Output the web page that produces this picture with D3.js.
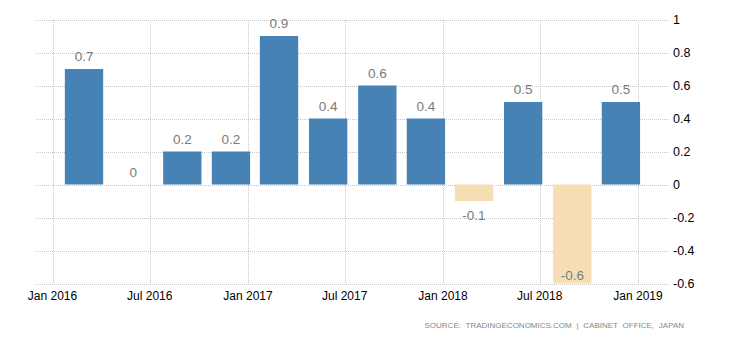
<!DOCTYPE html>
<html><head><meta charset="utf-8">
<script src="https://cdn.jsdelivr.net/npm/d3@7"></script>
<style>body{margin:0;background:#fff;} svg{display:block;}</style>
</head><body>
<svg id="c" width="730" height="340"></svg>
<script>
const dates = ["2016-02-29","2016-05-31","2016-08-31","2016-11-30","2017-02-28","2017-05-31","2017-08-31","2017-11-30","2018-02-28","2018-05-31","2018-08-31","2018-11-30"];
const values = [0.7, 0, 0.2, 0.2, 0.9, 0.4, 0.6, 0.4, -0.1, 0.5, -0.6, 0.5];
const xTickDates = ["2016-01-01","2016-07-01","2017-01-01","2017-07-01","2018-01-01","2018-07-01","2019-01-01"];
const yTicks = [1, 0.8, 0.6, 0.4, 0.2, 0, -0.2, -0.4, -0.6];
const sourceText = "SOURCE: TRADINGECONOMICS.COM | CABINET OFFICE, JAPAN";

const parse = d3.utcParse("%Y-%m-%d");
const fmtTick = d3.utcFormat("%b %Y");
const svg = d3.select("#c");
const L = 36, R = 670, T = 19.5, B = 283.5;

const x = d3.scaleUtc().domain([parse("2016-01-01"), parse("2019-01-01")]).range([52.5, 638]);
const y = d3.scaleLinear().domain([-0.6, 1]).range([B, T]);

const grid = svg.append("g").attr("stroke", "#c8c8c8").attr("stroke-dasharray", "1,1").attr("shape-rendering","crispEdges");
grid.selectAll("line.h").data(yTicks).join("line")
  .attr("x1", L).attr("x2", R).attr("y1", d => Math.round(y(d)) + 0.5).attr("y2", d => Math.round(y(d)) + 0.5);
grid.selectAll("line.v").data(xTickDates).join("line")
  .attr("x1", d => Math.round(x(parse(d))) + 0.5).attr("x2", d => Math.round(x(parse(d))) + 0.5)
  .attr("y1", T).attr("y2", B);

const data = dates.map((d, i) => ({date: parse(d), v: values[i]}));
const step = x(parse("2016-05-31")) - x(parse("2016-02-29"));
const bw = step * 0.78;

svg.append("g").selectAll("rect").data(data).join("rect")
  .attr("x", d => x(d.date) - bw / 2)
  .attr("width", bw)
  .attr("y", d => y(Math.max(0, d.v)))
  .attr("height", d => Math.abs(y(d.v) - y(0)))
  .attr("fill", d => d.v < 0 ? "#F5DEB3" : "#4682B4");

svg.append("g").selectAll("text").data(data).join("text")
  .attr("x", d => x(d.date))
  .attr("y", d => d.v < 0 ? Math.min(y(d.v) + 19, B - 4) : y(d.v) - 8)
  .attr("text-anchor", "middle")
  .attr("font-family", "Liberation Sans, Arial, sans-serif")
  .attr("font-size", 13.5)
  .attr("fill", "#7a7a7a")
  .text(d => String(d.v));

// right y axis labels
svg.append("g").selectAll("text").data(yTicks).join("text")
  .attr("x", 673).attr("y", d => y(d) + 4.5)
  .attr("font-family", "Liberation Sans, Arial, sans-serif")
  .attr("font-size", 12.5).attr("fill", "#000")
  .text(d => String(d));

// x axis labels
svg.append("g").selectAll("text").data(xTickDates).join("text")
  .attr("x", d => x(parse(d))).attr("y", 300)
  .attr("text-anchor", "middle")
  .attr("font-family", "Liberation Sans, Arial, sans-serif")
  .attr("font-size", 12).attr("fill", "#000")
  .text(d => fmtTick(parse(d)));

svg.append("text").attr("x", 684).attr("y", 328).attr("text-anchor", "end")
  .attr("font-family", "Liberation Sans, Arial, sans-serif")
  .attr("font-size", 8).attr("fill", "#888")
  .attr("word-spacing", 2.5)
  .text(sourceText);
</script>
</body></html>
